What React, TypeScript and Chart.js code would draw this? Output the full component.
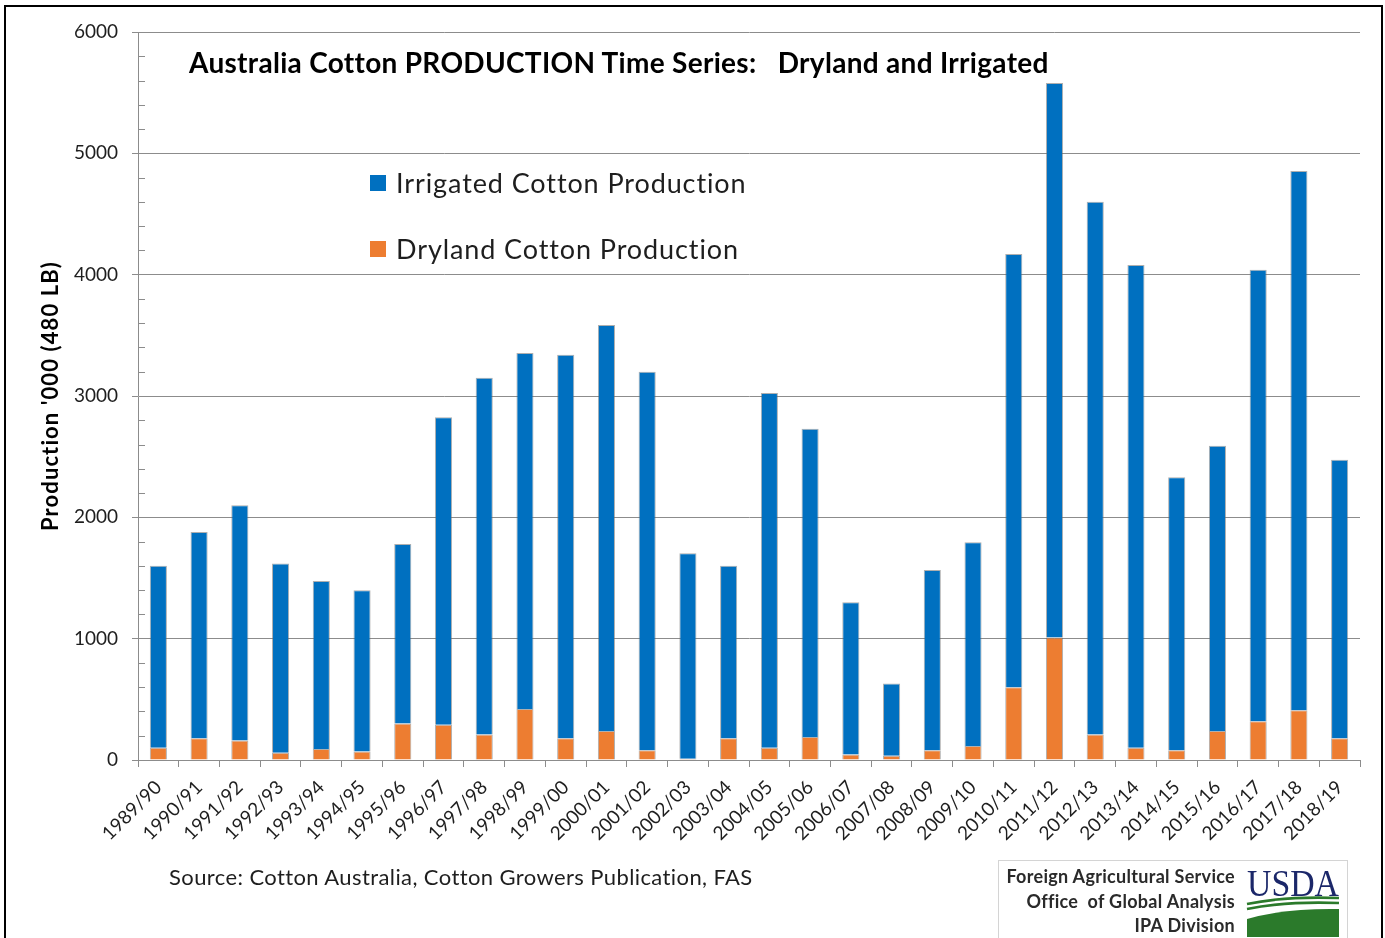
import React, { useEffect, useRef } from 'react';
import { Chart, registerables } from 'chart.js';

Chart.register(...registerables);

const categories = [
  '1989/90', '1990/91', '1991/92', '1992/93', '1993/94', '1994/95', '1995/96', '1996/97',
  '1997/98', '1998/99', '1999/00', '2000/01', '2001/02', '2002/03', '2003/04', '2004/05',
  '2005/06', '2006/07', '2007/08', '2008/09', '2009/10', '2010/11', '2011/12', '2012/13',
  '2013/14', '2014/15', '2015/16', '2016/17', '2017/18', '2018/19',
];

const drylandValues = [
  100, 180, 160, 60, 90, 70, 300, 290, 210, 420, 180, 240, 80, 10, 180, 100,
  190, 45, 35, 80, 115, 600, 1010, 210, 100, 80, 240, 320, 410, 180,
];

const irrigatedValues = [
  1500, 1700, 1940, 1560, 1385, 1330, 1480, 2535, 2940, 2935, 3160, 3345, 3120, 1695, 1420, 2925,
  2540, 1255, 595, 1485, 1680, 3570, 4570, 4390, 3980, 2250, 2350, 3720, 4445, 2295,
];

const yMin = 0;
const yMax = 6000;
const yMajorStep = 1000;
const yMinorStep = 200;

const BLUE = '#0070C0';
const ORANGE = '#ED7D31';
const GRID = '#8c8c8c';
const TEXT = '#1e1e1e';
const FONT = 'Lato, "Open Sans", sans-serif';

const minorTickPlugin = {
  id: 'minorTicks',
  afterDraw(chart: any) {
    const y = chart.scales.y;
    const ctx = chart.ctx;
    const left = chart.chartArea.left;
    ctx.save();
    ctx.strokeStyle = GRID;
    ctx.lineWidth = 1;
    for (let v = yMin + yMinorStep; v < yMax; v += yMinorStep) {
      if (v % yMajorStep === 0) continue;
      const py = Math.round(y.getPixelForValue(v)) + 0.5;
      ctx.beginPath();
      ctx.moveTo(left, py);
      ctx.lineTo(left + 7, py);
      ctx.stroke();
    }
    ctx.restore();
  },
};

export default function App() {
  const canvasRef = useRef<HTMLCanvasElement | null>(null);

  useEffect(() => {
    if (!canvasRef.current) return;
    const barStyle = {
      borderColor: 'rgba(110,110,110,0.55)',
      borderWidth: 1,
      barPercentage: 0.42,
      categoryPercentage: 1,
    };
    const chart = new Chart(canvasRef.current, {
      type: 'bar',
      data: {
        labels: categories,
        datasets: [
          { label: 'Dryland Cotton Production', data: drylandValues, backgroundColor: ORANGE, ...barStyle },
          { label: 'Irrigated Cotton Production', data: irrigatedValues, backgroundColor: BLUE, ...barStyle },
        ],
      },
      options: {
        animation: false,
        responsive: false,
        maintainAspectRatio: false,
        layout: { padding: { left: 0, right: 25, top: 32, bottom: 0 } },
        plugins: { legend: { display: false }, tooltip: { enabled: false }, title: { display: false } },
        scales: {
          x: {
            stacked: true,
            offset: true,
            grid: { offset: true, drawOnChartArea: false, drawTicks: true, tickLength: 7, color: GRID, lineWidth: 1 },
            border: { color: GRID, width: 1 },
            ticks: {
              autoSkip: false,
              minRotation: 45,
              maxRotation: 45,
              padding: 9,
              color: TEXT,
              font: { family: FONT, size: 19 },
            },
            afterFit: (s: any) => { s.height = 178; },
          },
          y: {
            stacked: true,
            min: yMin,
            max: yMax,
            ticks: {
              stepSize: yMajorStep,
              padding: 14,
              color: TEXT,
              font: { family: FONT, size: 19 },
              callback: (v: any) => String(v),
            },
            grid: { color: GRID, lineWidth: 1, drawTicks: true, tickLength: 6 },
            border: { color: GRID, width: 1 },
            afterFit: (s: any) => { s.width = 138; },
          },
        },
      },
      plugins: [minorTickPlugin],
    });
    return () => chart.destroy();
  }, []);

  const legendItem = (color: string, label: string, top: number) => (
    <div style={{ position: 'absolute', left: 370, top, height: 30, display: 'flex', alignItems: 'center' }}>
      <div style={{ width: 16, height: 16, background: color, marginRight: 10 }} />
      <span style={{ fontFamily: FONT, fontSize: 27, letterSpacing: 0.9, color: TEXT, whiteSpace: 'nowrap', lineHeight: '30px' }}>{label}</span>
    </div>
  );

  return (
    <div style={{ position: 'absolute', left: 0, top: 0, width: 1385, height: 938, overflow: 'hidden', background: '#fff' }}>
      <canvas ref={canvasRef} width={1385} height={938} style={{ position: 'absolute', left: 0, top: 0, display: 'block' }} />
      <div style={{ position: 'absolute', left: 4, top: 5, width: 1375, height: 960, border: '2px solid #000', pointerEvents: 'none' }} />
      <div style={{ position: 'absolute', left: 189, top: 46, fontFamily: FONT, fontWeight: 700, fontSize: 28, letterSpacing: 0.3, lineHeight: '32px', color: '#000', whiteSpace: 'pre' }}>
        {'Australia Cotton PRODUCTION Time Series:   Dryland and Irrigated'}
      </div>
      {legendItem(BLUE, 'Irrigated Cotton Production', 168)}
      {legendItem(ORANGE, 'Dryland Cotton Production', 234)}
      <div style={{ position: 'absolute', left: 49, top: 396, width: 0, height: 0 }}>
        <div style={{ position: 'absolute', left: 0, top: 0, transform: 'translate(-50%, -50%) rotate(-90deg)', fontFamily: FONT, fontWeight: 700, fontSize: 22, letterSpacing: 1.1, color: '#000', whiteSpace: 'nowrap' }}>
          Production '000 (480 LB)
        </div>
      </div>
      <div style={{ position: 'absolute', left: 169, top: 863, fontFamily: FONT, fontSize: 22, letterSpacing: 0.4, lineHeight: '28px', color: TEXT, whiteSpace: 'nowrap' }}>
        Source: Cotton Australia, Cotton Growers Publication, FAS
      </div>
      <div style={{ position: 'absolute', left: 998, top: 860, width: 348, height: 90, border: '1px solid #d4d4d4', background: '#fff' }}>
        <div style={{ position: 'absolute', right: 112, top: 3, textAlign: 'right', fontFamily: FONT, fontWeight: 700, fontSize: 18, letterSpacing: 0.3, lineHeight: '24.5px', color: '#2a2a2a', whiteSpace: 'nowrap' }}>
          <div>Foreign Agricultural Service</div>
          <div>Office &nbsp;of Global Analysis</div>
          <div>IPA Division</div>
        </div>
        <svg style={{ position: 'absolute', left: 246, top: 2 }} width={98} height={76} viewBox="0 0 98 76">
          <text x={2} y={33} textLength={92} lengthAdjust="spacingAndGlyphs" fontFamily='"Liberation Serif", serif' fontSize={37} fill="#1b2769">USDA</text>
          <path d="M2 41 Q 40 33 94 35" stroke="#2b7a2b" strokeWidth={2.6} fill="none" />
          <path d="M2 46 Q 42 38 94 40" stroke="#2b7a2b" strokeWidth={2.6} fill="none" />
          <path d="M2 56 Q 40 45 94 46 L 94 74 L 2 74 Z" fill="#2b7a2b" />
        </svg>
      </div>
    </div>
  );
}
